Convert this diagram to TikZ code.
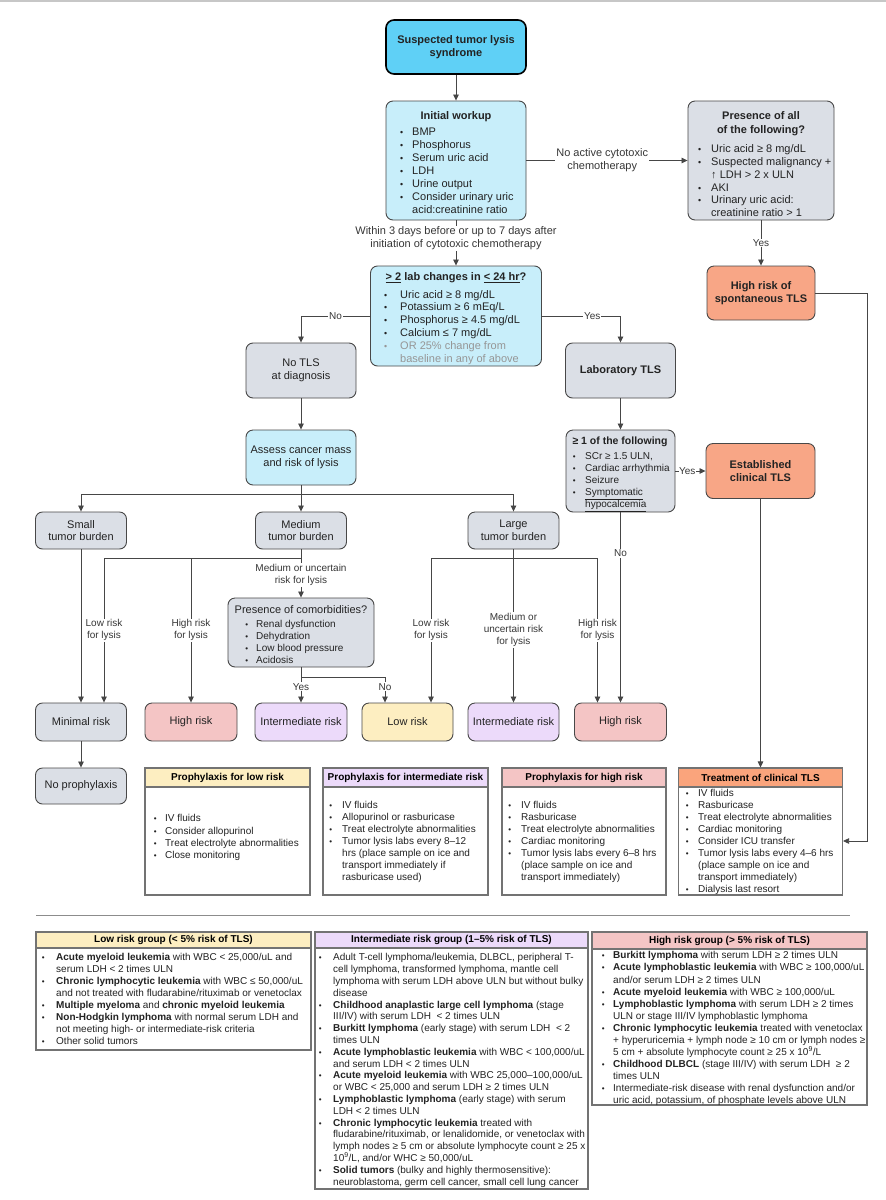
\documentclass[tikz,border=0pt]{standalone}
\usepackage{fontspec}
\setmainfont{Liberation Sans}
\usetikzlibrary{arrows.meta,calc}
\definecolor{cyanT}{RGB}{95,208,246}
\definecolor{lblue}{RGB}{200,238,250}
\definecolor{gbox}{RGB}{219,223,230}
\definecolor{salm}{RGB}{248,166,134}
\definecolor{pinkR}{RGB}{244,197,197}
\definecolor{purpR}{RGB}{236,218,250}
\definecolor{yelR}{RGB}{253,238,193}
\definecolor{orH}{RGB}{250,164,124}
\definecolor{bord}{RGB}{72,72,72}
\definecolor{linc}{RGB}{70,70,70}
\definecolor{txt}{RGB}{35,35,35}
\definecolor{lbt}{RGB}{55,55,55}
\definecolor{pbord}{RGB}{115,115,115}
\definecolor{greyt}{RGB}{150,150,150}
\newcommand\fA{\fontsize{11}{13}\selectfont}
\newcommand\fB{\fontsize{10}{12}\selectfont}
\newcommand\bpt[1][9pt]{\llap{\scalebox{0.8}{\textbullet}\hspace{#1}}}
\tikzset{
 rbox/.style={draw=bord, rounded corners=7pt, line width=0.9pt, inner sep=1pt, align=center, text=txt},
 bluebox/.style={rbox, fill=lblue},
 graybox/.style={rbox, fill=gbox},
 salbox/.style={rbox, fill=salm, font=\fA\bfseries},
 riskbox/.style={rbox, minimum width=91pt, minimum height=38pt, font=\fA},
 lst/.style={anchor=north west, inner sep=0pt, align=left, text=txt},
 ttl/.style={inner sep=0pt, align=center, text=txt},
 arr/.style={draw=linc, line width=0.8pt, -{Triangle[length=6pt,width=5.5pt]}},
 ln/.style={draw=linc, line width=0.8pt},
 lbl/.style={fill=white, inner sep=1pt, font=\fB, text=lbt, align=center},
 pbody/.style={draw=pbord, line width=1.1pt, inner sep=0pt, fill=white},
 phead/.style={draw=pbord, line width=1.1pt, inner sep=0pt, font=\fB\bfseries, text=black},
}
\begin{document}
\begin{tikzpicture}[x=1pt,y=-1pt]
\path[use as bounding box, fill=white] (0,0) rectangle (886,1200);
\draw[draw=black!22, line width=1.5pt] (0,1) -- (886,1);

% ---------- top part ----------
\node[rbox, fill=cyanT, draw=black, line width=1.6pt, rounded corners=8pt, minimum width=140pt, minimum height=54pt, font=\fA\bfseries] (stls) at (456,47) {Suspected tumor lysis\\syndrome};

\node[bluebox, minimum width=140pt, minimum height=119pt] (iw) at (456,160.5) {};
\node[ttl, font=\fA\bfseries] (iwT) at (456,117) {Initial workup};
\node[lst, font=\fA] (iwL) at (412,128) {\bpt BMP\\%
\bpt Phosphorus\\%
\bpt Serum uric acid\\%
\bpt LDH\\%
\bpt Urine output\\%
\bpt Consider urinary uric\\%
acid:creatinine ratio};

\node[graybox, minimum width=146pt, minimum height=119pt] (pres) at (761,160.5) {};
\node[ttl, font=\fontsize{11}{14}\selectfont\bfseries] (presT) at (761,124) {Presence of all\\of the following?};
\node[lst, font=\fontsize{11}{12.8}\selectfont] (presL) at (711,144.5) {\bpt[10pt]Uric acid ≥ 8 mg/dL\\%
\bpt[10pt]Suspected malignancy +\\%
↑ LDH > 2 x ULN\\%
\bpt[10pt]AKI\\%
\bpt[10pt]Urinary uric acid:\\%
creatinine ratio > 1};

\node[salbox, minimum width=108pt, minimum height=54pt] (hrs) at (761,293) {High risk of\\spontaneous TLS};

\node[bluebox, minimum width=171pt, minimum height=100pt] (lab2) at (456,316) {};
\node[ttl, font=\fA\bfseries] (lab2T) at (456,278) {\underline{> 2} lab changes in \underline{< 24 hr}?};
\node[lst, font=\fontsize{11}{12.8}\selectfont] (lab2L) at (400,290) {\bpt[13pt]Uric acid ≥ 8 mg/dL\\%
\bpt[13pt]Potassium ≥ 6 mEq/L\\%
\bpt[13pt]Phosphorus ≥ 4.5 mg/dL\\%
\bpt[13pt]Calcium ≤ 7 mg/dL\\%
{\color{greyt}\bpt[13pt]OR 25\% change from}\\%
{\color{greyt}baseline in any of above}};

\node[graybox, minimum width=110pt, minimum height=55pt, font=\fA] (notls) at (301,370.5) {No TLS\\at diagnosis};
\node[graybox, minimum width=110pt, minimum height=55pt, font=\fA\bfseries] (labtls) at (620.5,370.5) {Laboratory TLS};
\node[bluebox, minimum width=110pt, minimum height=55pt, font=\fA] (assess) at (301,457.5) {Assess cancer mass\\and risk of lysis};

\node[graybox, minimum width=109pt, minimum height=82pt] (ge1) at (620.5,471) {};
\node[ttl, font=\fontsize{10.5}{12}\selectfont\bfseries] (ge1T) at (620,442) {≥ 1 of the following};
\node[lst, font=\fB] (ge1L) at (585,452.5) {\bpt[9.5pt]SCr ≥ 1.5 ULN,\\%
\bpt[9.5pt]Cardiac arrhythmia\\%
\bpt[9.5pt]Seizure\\%
\bpt[9.5pt]\underline{Symptomatic}\\%
\underline{hypocalcemia}};

\node[salbox, minimum width=109pt, minimum height=55pt] (est) at (760.5,471) {Established\\clinical TLS};

% ---------- tumor burden ----------
\node[graybox, minimum width=91pt, minimum height=37pt, font=\fontsize{11}{12.5}\selectfont] (small) at (81,530.5) {Small\\tumor burden};
\node[graybox, minimum width=91pt, minimum height=37pt, font=\fontsize{11}{12.5}\selectfont] (medium) at (301,530.5) {Medium\\tumor burden};
\node[graybox, minimum width=91pt, minimum height=37pt, font=\fontsize{11}{12.5}\selectfont] (large) at (513.5,530.5) {Large\\tumor burden};

\node[graybox, minimum width=146pt, minimum height=69pt] (comorb) at (301,632.5) {};
\node[ttl, font=\fA] (comT) at (301,610) {Presence of comorbidities?};
\node[lst, font=\fB] (comL) at (256,620.5) {\bpt[8pt]Renal dysfunction\\%
\bpt[8pt]Dehydration\\%
\bpt[8pt]Low blood pressure\\%
\bpt[8pt]Acidosis};

% ---------- risk row ----------
\node[riskbox, fill=gbox] (minimal) at (81,722) {Minimal risk};
\node[riskbox, fill=pinkR, minimum width=92pt] (high1) at (191,722) {High risk};
\node[riskbox, fill=purpR, minimum width=92pt] (inter1) at (301,722) {Intermediate risk};
\node[riskbox, fill=yelR] (low1) at (407.5,722) {Low risk};
\node[riskbox, fill=purpR] (inter2) at (513.5,722) {Intermediate risk};
\node[riskbox, fill=pinkR, minimum width=92pt] (high2) at (620.5,722) {High risk};

\node[graybox, minimum width=91pt, minimum height=36pt, font=\fA] (noproph) at (81,786) {No prophylaxis};

% ---------- prophylaxis / treatment ----------
\node[pbody, minimum width=165pt, minimum height=127pt] (pl) at (227.5,831.5) {};
\node[phead, fill=yelR, minimum width=165pt, minimum height=19pt] (plH) at (227.5,777.5) {Prophylaxis for low risk};
\node[lst, font=\fontsize{10}{12.2}\selectfont] (plL) at (165,814.5) {\bpt[8.5pt]IV fluids\\%
\bpt[8.5pt]Consider allopurinol\\%
\bpt[8.5pt]Treat electrolyte abnormalities\\%
\bpt[8.5pt]Close monitoring};

\node[pbody, minimum width=165pt, minimum height=127pt] (pi) at (405.5,831.5) {};
\node[phead, fill=purpR, minimum width=165pt, minimum height=19pt] (piH) at (405.5,777.5) {Prophylaxis for intermediate risk};
\node[lst, font=\fontsize{10}{11.9}\selectfont] (piL) at (342,801.5) {\bpt[10pt]IV fluids\\%
\bpt[10pt]Allopurinol or rasburicase\\%
\bpt[10pt]Treat electrolyte abnormalities\\%
\bpt[10pt]Tumor lysis labs every 8–12\\%
hrs (place sample on ice and\\%
transport immediately if\\%
rasburicase used)};

\node[pbody, minimum width=164pt, minimum height=127pt] (ph) at (584,831.5) {};
\node[phead, fill=pinkR, minimum width=164pt, minimum height=19pt] (phH) at (584,777.5) {Prophylaxis for high risk};
\node[lst, font=\fontsize{10}{11.9}\selectfont] (phL) at (521,801.5) {\bpt[10pt]IV fluids\\%
\bpt[10pt]Rasburicase\\%
\bpt[10pt]Treat electrolyte abnormalities\\%
\bpt[10pt]Cardiac monitoring\\%
\bpt[10pt]Tumor lysis labs every 6–8 hrs\\%
(place sample on ice and\\%
transport immediately)};

\node[pbody, minimum width=164pt, minimum height=127pt] (treat) at (760.5,831.5) {};
\node[phead, fill=orH, minimum width=164pt, minimum height=19pt] (treatH) at (760.5,777.5) {Treatment of clinical TLS};
\node[lst, font=\fontsize{10}{11.9}\selectfont] (trL) at (698,789.5) {\bpt[9.5pt]IV fluids\\%
\bpt[9.5pt]Rasburicase\\%
\bpt[9.5pt]Treat electrolyte abnormalities\\%
\bpt[9.5pt]Cardiac monitoring\\%
\bpt[9.5pt]Consider ICU transfer\\%
\bpt[9.5pt]Tumor lysis labs every 4–6 hrs\\%
(place sample on ice and\\%
transport immediately)\\%
\bpt[9.5pt]Dialysis last resort};

% ---------- connectors ----------
\draw[arr] (stls.south) -- (iw.north);
\draw[arr] (iw.east) -- (pres.west) node[lbl, font=\fA, pos=0.47] {No active cytotoxic\\chemotherapy};
\draw[arr] (pres.south) -- (hrs.north) node[lbl, pos=0.5] {Yes};
\draw[arr] (iw.south) -- (lab2.north) node[lbl, font=\fA, pos=0.4] {Within 3 days before or up to 7 days after\\initiation of cytotoxic chemotherapy};
\draw[arr] (lab2.west) -| (notls.north) node[lbl, pos=0.25] {No};
\draw[arr] (lab2.east) -| (labtls.north) node[lbl, pos=0.32] {Yes};
\draw[arr] (notls.south) -- (assess.north);
\draw[arr] (labtls.south) -- (ge1.north);
\coordinate (dj) at (301,494);
\draw[ln] (assess.south) -- (dj);
\draw[arr] (dj) -| (small.north);
\draw[arr] (dj) -| (large.north);
\draw[arr] (dj) -- (medium.north);
\draw[arr] (small.south) -- (minimal.north);
\draw[arr] (medium.south) -- (comorb.north) node[lbl, pos=0.53] {Medium or uncertain\\risk for lysis};
\coordinate (mj) at (301,558);
\draw[arr] (mj) -| ([xshift=23pt]minimal.north) node[lbl, pos=0.75] {Low risk\\for lysis};
\draw[arr] (high1.north |- mj) -- (high1.north) node[lbl, pos=0.5] {High risk\\for lysis};
\coordinate (cj) at (301,677);
\draw[arr] (comorb.south) -- (inter1.north) node[lbl, pos=0.55] {Yes};
\draw[arr] (cj) -| ([xshift=-22.5pt]low1.north) node[lbl, pos=0.69] {No};
\coordinate (lj) at (513.5,558);
\draw[arr] (large.south) -- (inter2.north) node[lbl, pos=0.526] {Medium or\\uncertain risk\\for lysis};
\draw[arr] (lj) -| ([xshift=23.5pt]low1.north) node[lbl, pos=0.75] {Low risk\\for lysis};
\draw[arr] (lj) -| ([xshift=-23pt]high2.north) node[lbl, pos=0.75] {High risk\\for lysis};
\draw[arr] (ge1.south) -- (high2.north) node[lbl, pos=0.215] {No};
\draw[arr] (ge1.east) -- (est.west) node[lbl, pos=0.39, inner sep=0.3pt] {Yes};
\draw[arr] (est.south) -- (treatH.north);
\coordinate (rc) at (867,293);
\draw[arr] (hrs.east) -- (rc) |- ([yshift=-9.5pt]treat.east);
\draw[arr] (minimal.south) -- (noproph.north);

% ---------- separator ----------
\draw[draw=black!45, line width=1pt] (36,915) -- (850,915);

% ---------- risk groups ----------
\node[pbody, minimum width=275pt, minimum height=118pt] (lg) at (173.5,991) {};
\node[phead, fill=yelR, minimum width=275pt, minimum height=16pt] (lgH) at (173.5,940) {Low risk group (< 5\% risk of TLS)};
\node[lst, font=\fontsize{10}{12}\selectfont] (lgL) at (56,953.4) {\bpt[11.5pt]{\bfseries Acute myeloid leukemia} with WBC < 25,000/uL and\\%
serum LDH < 2 times ULN\\%
\bpt[11.5pt]{\bfseries Chronic lymphocytic leukemia} with WBC ≤ 50,000/uL\\%
and not treated with fludarabine/rituximab or venetoclax\\%
\bpt[11.5pt]{\bfseries Multiple myeloma} and {\bfseries chronic myeloid leukemia}\\%
\bpt[11.5pt]{\bfseries Non-Hodgkin lymphoma} with normal serum LDH and\\%
not meeting high- or intermediate-risk criteria\\%
\bpt[11.5pt]Other solid tumors};

\node[pbody, minimum width=273pt, minimum height=257pt] (ig) at (451.5,1060.5) {};
\node[phead, fill=purpR, minimum width=273pt, minimum height=16pt] (igH) at (451.5,940) {Intermediate risk group (1–5\% risk of TLS)};
\node[lst, font=\fontsize{10}{11.8}\selectfont] (igL) at (333,953.4) {\bpt[11.5pt]Adult T-cell lymphoma/leukemia, DLBCL, peripheral T-\\%
cell lymphoma, transformed lymphoma, mantle cell\\%
lymphoma with serum LDH above ULN but without bulky\\%
disease\\%
\bpt[11.5pt]{\bfseries Childhood anaplastic large cell lymphoma} (stage\\%
III/IV) with serum LDH\ \ < 2 times ULN\\%
\bpt[11.5pt]{\bfseries Burkitt lymphoma} (early stage) with serum LDH\ \ < 2\\%
times ULN\\%
\bpt[11.5pt]{\bfseries Acute lymphoblastic leukemia} with WBC < 100,000/uL\\%
and serum LDH < 2 times ULN\\%
\bpt[11.5pt]{\bfseries Acute myeloid leukemia} with WBC 25,000–100,000/uL\\%
or WBC < 25,000 and serum LDH ≥ 2 times ULN\\%
\bpt[11.5pt]{\bfseries Lymphoblastic lymphoma} (early stage) with serum\\%
LDH < 2 times ULN\\%
\bpt[11.5pt]{\bfseries Chronic lymphocytic leukemia} treated with\\%
fludarabine/rituximab, or lenalidomide, or venetoclax with\\%
lymph nodes ≥ 5 cm or absolute lymphocyte count ≥ 25 x\\%
10\textsuperscript{9}/L, and/or WHC ≥ 50,000/uL\\%
\bpt[11.5pt]{\bfseries Solid tumors} (bulky and highly thermosensitive):\\%
neuroblastoma, germ cell cancer, small cell lung cancer};

\node[pbody, minimum width=275pt, minimum height=173pt] (hg) at (729.5,1018.5) {};
\node[phead, fill=pinkR, minimum width=275pt, minimum height=17pt] (hgH) at (729.5,940.5) {High risk group (> 5\% risk of TLS)};
\node[lst, font=\fontsize{10}{12.08}\selectfont] (hgL) at (613,951.4) {\bpt[8.5pt]{\bfseries Burkitt lymphoma} with serum LDH ≥ 2 times ULN\\%
\bpt[8.5pt]{\bfseries Acute lymphoblastic leukemia} with WBC ≥ 100,000/uL\\%
and/or serum LDH ≥ 2 times ULN\\%
\bpt[8.5pt]{\bfseries Acute myeloid leukemia} with WBC ≥ 100,000/uL\\%
\bpt[8.5pt]{\bfseries Lymphoblastic lymphoma} with serum LDH ≥ 2 times\\%
ULN or stage III/IV lymphoblastic lymphoma\\%
\bpt[8.5pt]{\bfseries Chronic lymphocytic leukemia} treated with venetoclax\\%
+ hyperuricemia + lymph node ≥ 10 cm or lymph nodes ≥\\%
5 cm + absolute lymphocyte count ≥ 25 x 10\textsuperscript{9}/L\\%
\bpt[8.5pt]{\bfseries Childhood DLBCL} (stage III/IV) with serum LDH\ \ ≥ 2\\%
times ULN\\%
\bpt[8.5pt]Intermediate-risk disease with renal dysfunction and/or\\%
uric acid, potassium, of phosphate levels above ULN};
\end{tikzpicture}
\end{document}
